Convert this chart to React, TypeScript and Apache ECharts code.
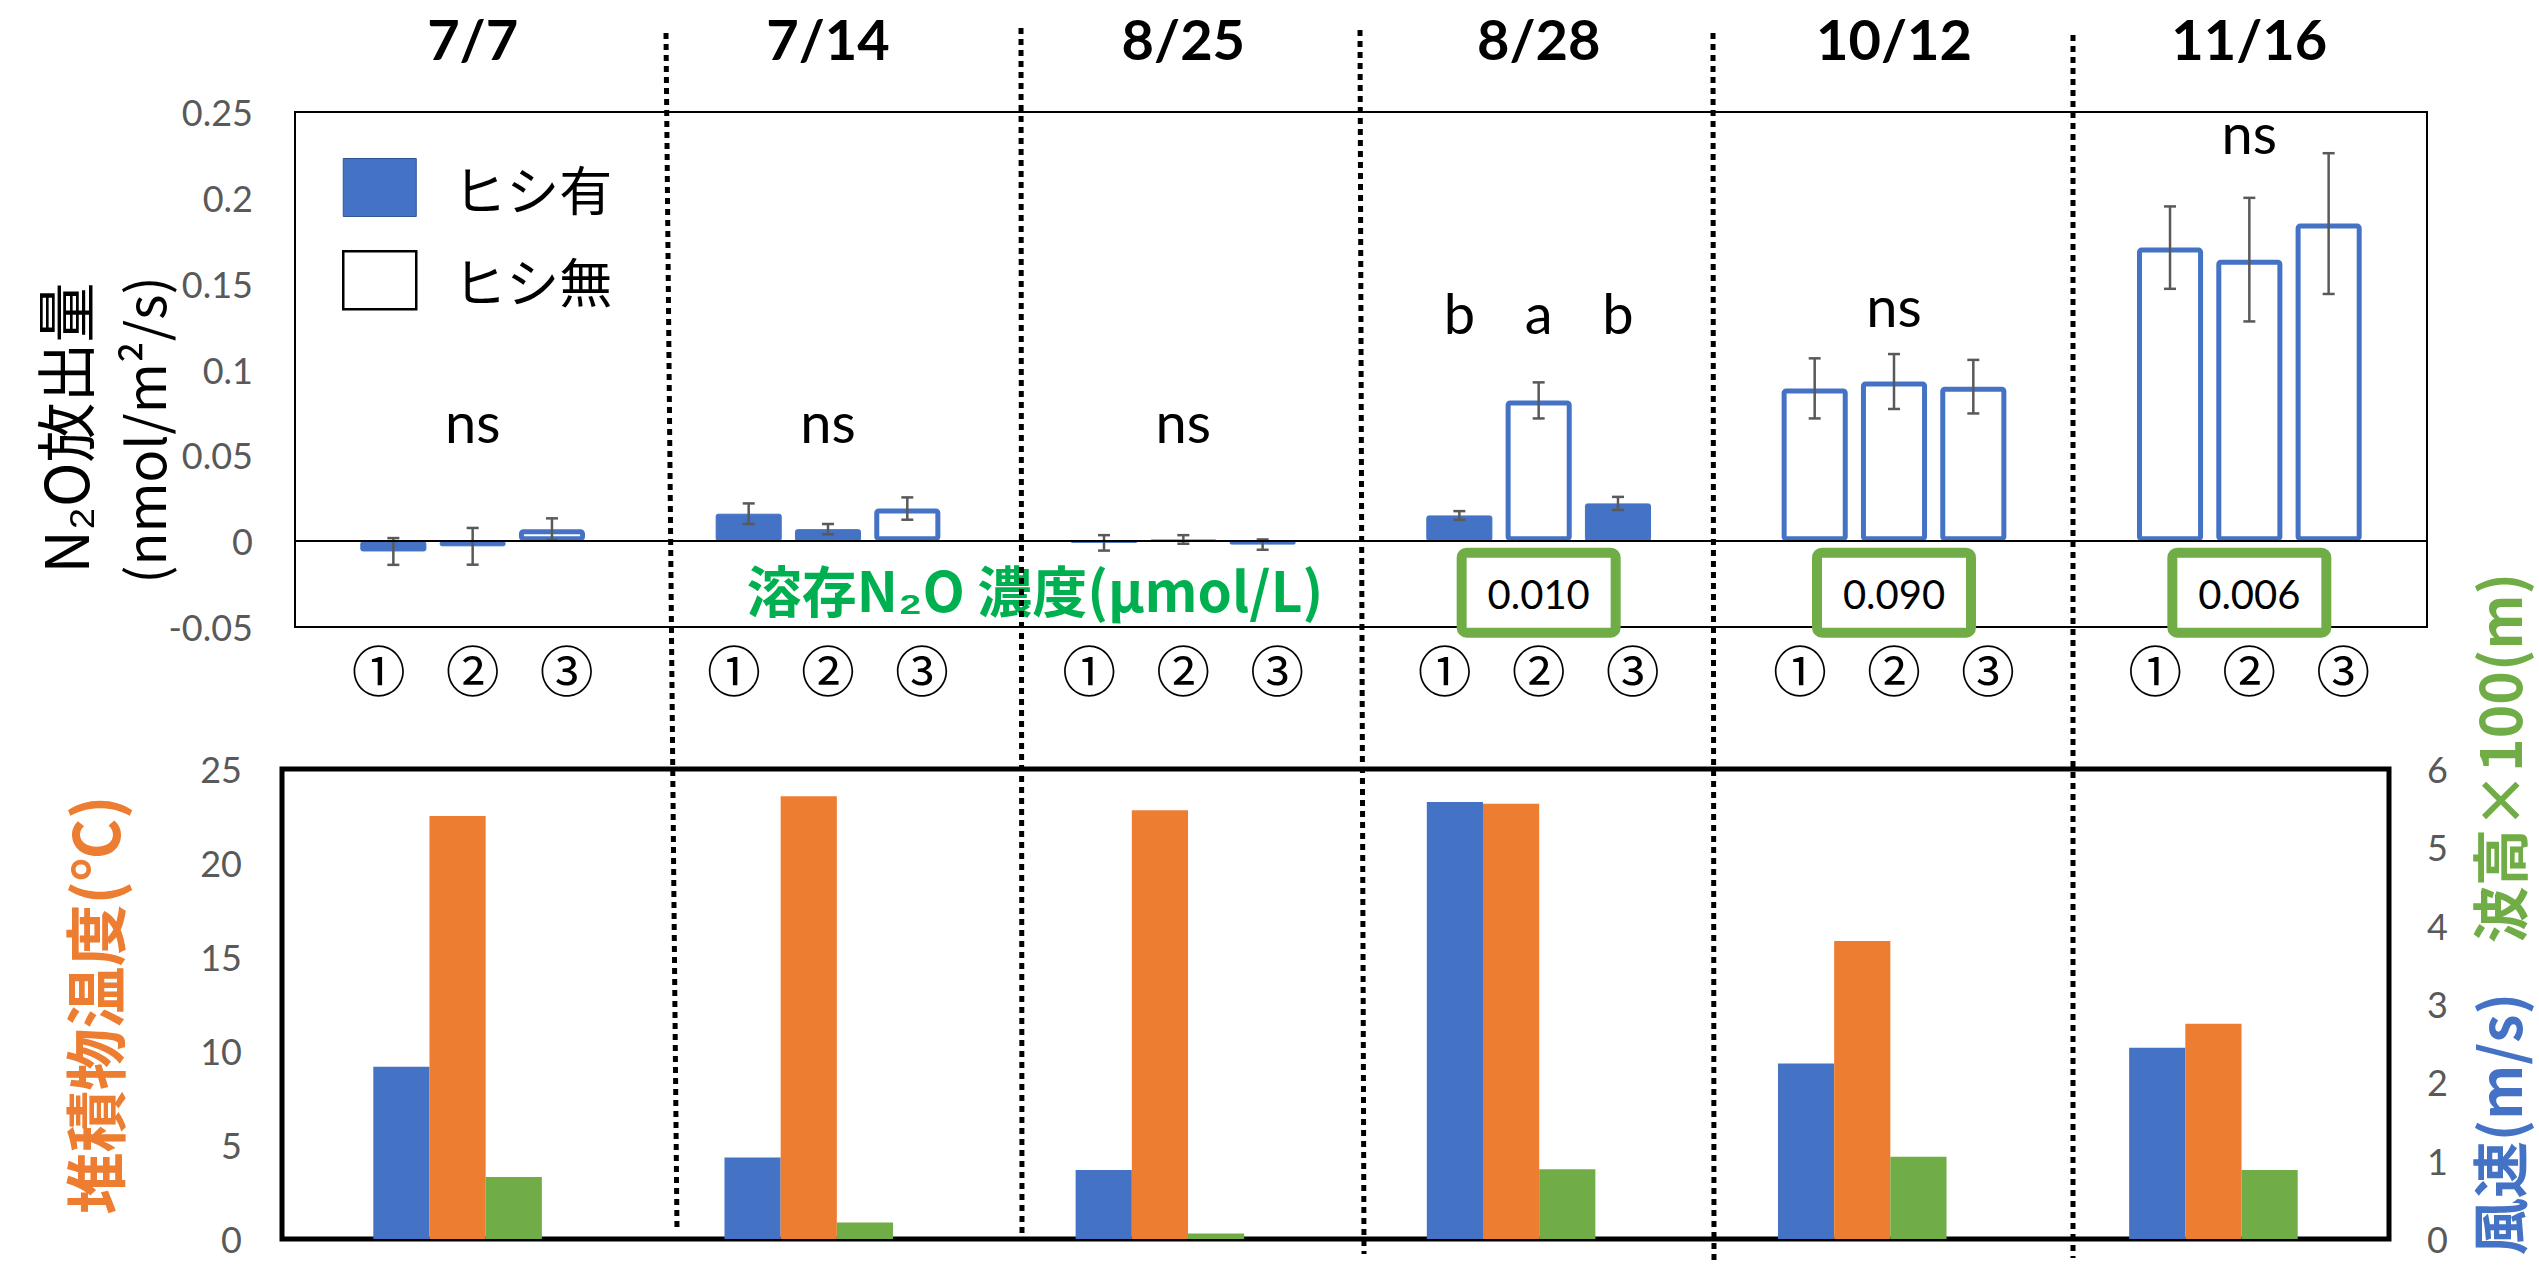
import React, { useEffect, useRef } from "react";
import * as echarts from "echarts";

// ---------- data ----------
const dates = ["7/7", "7/14", "8/25", "8/28", "10/12", "11/16"];
const posLabels = ["①", "②", "③"];

// N2O flux (nmol/m2/s) at positions ①, ②, ③
const flux1 = [-0.006, 0.016, -0.001, 0.015, 0.089, 0.171];
const flux2 = [-0.003, 0.007, 0.001, 0.082, 0.093, 0.164];
const flux3 = [0.007, 0.019, -0.002, 0.022, 0.09, 0.185];
const err1 = [0.0078, 0.006, 0.0045, 0.0025, 0.0175, 0.024];
const err2 = [0.0107, 0.003, 0.0025, 0.0105, 0.016, 0.036];
const err3 = [0.0063, 0.0065, 0.003, 0.0038, 0.0156, 0.041];
// water chestnut (ヒシ) present?
const hishi1 = [true, true, true, true, false, false];
const hishi2 = [true, true, true, false, false, false];
const hishi3 = [false, false, true, true, false, false];

// significance letters
const sigText = [["ns"], ["ns"], ["ns"], ["b", "a", "b"], ["ns"], ["ns"]];
const sigLevel = [0.07, 0.07, 0.07, 0.133, 0.137, 0.238];

// dissolved N2O (μmol/L)
const dissolved = [null, null, null, 0.01, 0.09, 0.006];
const DISSOLVED_Y = -0.03;

// lower panel
const windSpeed = [2.2, 1.04, 0.88, 5.58, 2.24, 2.44];
const sedTemp = [22.5, 23.55, 22.8, 23.15, 15.85, 11.45];
const waveHeight = [0.79, 0.21, 0.07, 0.89, 1.05, 0.88];

// ---------- style ----------
const BLUE = "#4472C4";
const ORANGE = "#ED7D31";
const GREEN = "#70AD47";
const TEXT_GREEN = "#00B050";
const GRAY = "#595959";
const BAR_W = 0.186;
const BAR_GAP = 0.2;
const LATIN = "Lato, 'Noto Sans CJK JP', sans-serif";
const CJK = "'Noto Sans CJK JP', sans-serif";

const fluxes = [flux1, flux2, flux3];
const errs = [err1, err2, err3];
const hishis = [hishi1, hishi2, hishi3];

function buildOption() {
  const series: any[] = [];
  for (let p = 0; p < 3; p++) {
    series.push({
      type: "bar",
      name: "ヒシ有",
      stack: "p" + p,
      xAxisIndex: 0,
      yAxisIndex: 0,
      barWidth: BAR_W * 100 + "%",
      barGap: BAR_GAP * 100 + "%",
      data: fluxes[p].map((v, i) => (hishis[p][i] ? v : "-")),
      itemStyle: { color: BLUE, borderColor: BLUE, borderWidth: 1, borderRadius: 2 },
      markLine:
        p === 0
          ? {
              silent: true,
              symbol: ["none", "none"],
              label: { show: false },
              lineStyle: { color: "#000", width: 2, type: "solid" },
              data: [{ yAxis: 0 }],
              z: 10,
            }
          : undefined,
    });
    series.push({
      type: "bar",
      name: "ヒシ無",
      stack: "p" + p,
      xAxisIndex: 0,
      yAxisIndex: 0,
      barWidth: BAR_W * 100 + "%",
      barGap: BAR_GAP * 100 + "%",
      data: fluxes[p].map((v, i) => (!hishis[p][i] ? v : "-")),
      itemStyle: { color: "#fff", borderColor: BLUE, borderWidth: 5, borderRadius: 2 },
    });
  }

  // error bars
  const errData: number[][] = [];
  for (let p = 0; p < 3; p++) {
    for (let i = 0; i < dates.length; i++) errData.push([i, fluxes[p][i], errs[p][i], p]);
  }
  series.push({
    type: "custom",
    xAxisIndex: 0,
    yAxisIndex: 0,
    z: 5,
    silent: true,
    data: errData,
    renderItem: (params: any, api: any) => {
      const cat = api.value(0);
      const v = api.value(1);
      const e = api.value(2);
      const pos = api.value(3);
      const band = api.size([1, 0])[0];
      const pitch = band * BAR_W * (1 + BAR_GAP);
      const x = api.coord([cat, v])[0] + (pos - 1) * pitch;
      const yT = api.coord([cat, v + e])[1];
      const yB = api.coord([cat, v - e])[1];
      const cap = 6;
      const st = { stroke: GRAY, lineWidth: 2.5 };
      return {
        type: "group",
        children: [
          { type: "line", shape: { x1: x, y1: yT, x2: x, y2: yB }, style: st },
          { type: "line", shape: { x1: x - cap, y1: yT, x2: x + cap, y2: yT }, style: st },
          { type: "line", shape: { x1: x - cap, y1: yB, x2: x + cap, y2: yB }, style: st },
        ],
      };
    },
  });

  // significance letters
  const sigItems: { cat: number; y: number; off: number; text: string }[] = [];
  sigText.forEach((arr, i) => {
    arr.forEach((t, k) => {
      const off = arr.length === 1 ? 0 : k - 1;
      sigItems.push({ cat: i, y: sigLevel[i], off, text: t });
    });
  });
  series.push({
    type: "custom",
    xAxisIndex: 0,
    yAxisIndex: 0,
    z: 6,
    silent: true,
    data: sigItems.map((s) => [s.cat, s.y, s.off]),
    renderItem: (params: any, api: any) => {
      const item = sigItems[params.dataIndex];
      const band = api.size([1, 0])[0];
      const pitch = band * BAR_W * (1 + BAR_GAP);
      const c = api.coord([api.value(0), api.value(1)]);
      return {
        type: "text",
        x: c[0] + api.value(2) * pitch,
        y: c[1],
        style: {
          text: item.text,
          fontSize: 56,
          fontFamily: LATIN,
          fill: "#000",
          align: "center",
          verticalAlign: "middle",
        },
      };
    },
  });

  // dissolved N2O boxes
  const dissItems = dissolved
    .map((d, i) => (d == null ? null : [i, DISSOLVED_Y, d]))
    .filter((d) => d !== null) as number[][];
  series.push({
    type: "custom",
    xAxisIndex: 0,
    yAxisIndex: 0,
    z: 4,
    silent: true,
    data: dissItems,
    renderItem: (params: any, api: any) => {
      const c = api.coord([api.value(0), api.value(1)]);
      const w = 154;
      const h = 80;
      return {
        type: "group",
        children: [
          {
            type: "rect",
            shape: { x: c[0] - w / 2, y: c[1] - h / 2, width: w, height: h, r: 5 },
            style: { fill: "#fff", stroke: GREEN, lineWidth: 10 },
          },
          {
            type: "text",
            x: c[0],
            y: c[1] + 1,
            style: {
              text: Number(api.value(2)).toFixed(3),
              fontSize: 40,
              fontFamily: LATIN,
              fill: "#000",
              align: "center",
              verticalAlign: "middle",
            },
          },
        ],
      };
    },
  });

  // lower panel bars
  series.push({
    type: "bar",
    name: "風速",
    xAxisIndex: 2,
    yAxisIndex: 2,
    barWidth: "16%",
    barGap: "0%",
    data: windSpeed,
    itemStyle: { color: BLUE },
  });
  series.push({
    type: "bar",
    name: "堆積物温度",
    xAxisIndex: 2,
    yAxisIndex: 1,
    barWidth: "16%",
    barGap: "0%",
    data: sedTemp,
    itemStyle: { color: ORANGE },
  });
  series.push({
    type: "bar",
    name: "波高×100",
    xAxisIndex: 2,
    yAxisIndex: 2,
    barWidth: "16%",
    barGap: "0%",
    data: waveHeight,
    itemStyle: { color: GREEN },
  });

  const sepLines = [
    [666, 33, 677, 1232],
    [1021, 28, 1022, 1238],
    [1360, 30, 1364, 1254],
    [1713, 33, 1714, 1265],
    [2073, 35, 2073, 1258],
  ];

  const tickLabel = { color: GRAY, fontSize: 36, fontFamily: LATIN };

  return {
    animation: false,
    backgroundColor: "#fff",
    legend: {
      show: true,
      orient: "vertical",
      left: 337,
      top: 153,
      itemWidth: 73,
      itemHeight: 58,
      itemGap: 33,
      icon: "rect",
      selectedMode: false,
      textStyle: { fontSize: 53, fontFamily: CJK, color: "#000", padding: [0, 0, 0, 32] },
      data: [
        { name: "ヒシ有", itemStyle: { color: BLUE, borderColor: "#2F5597", borderWidth: 1 } },
        { name: "ヒシ無", itemStyle: { color: "#fff", borderColor: "#000", borderWidth: 2.5 } },
      ],
    },
    grid: [
      { left: 295, top: 112, width: 2132, height: 515, show: true, borderColor: "#000", borderWidth: 2, backgroundColor: "transparent" },
      { left: 282, top: 769, width: 2107, height: 470, show: true, borderColor: "#000", borderWidth: 5, backgroundColor: "transparent" },
    ],
    xAxis: [
      {
        gridIndex: 0,
        type: "category",
        data: dates,
        position: "bottom",
        axisLine: { show: false, onZero: false },
        axisTick: { show: false },
        splitLine: { show: false },
        axisLabel: {
          margin: 18,
          formatter: () => posLabels.map((s) => "{c|" + s + "}").join(""),
          rich: { c: { width: 94, align: "center", fontSize: 54, lineHeight: 46, fontFamily: CJK, color: "#000" } },
        },
      },
      {
        gridIndex: 0,
        type: "category",
        data: dates,
        position: "top",
        axisLine: { show: false },
        axisTick: { show: false },
        splitLine: { show: false },
        axisLabel: { margin: 46, fontSize: 56, fontWeight: "bold", fontFamily: LATIN, color: "#000" },
      },
      {
        gridIndex: 1,
        type: "category",
        data: dates,
        axisLine: { show: false },
        axisTick: { show: false },
        splitLine: { show: false },
        axisLabel: { show: false },
      },
    ],
    yAxis: [
      {
        gridIndex: 0,
        type: "value",
        min: -0.05,
        max: 0.25,
        interval: 0.05,
        axisLine: { show: false },
        axisTick: { show: false },
        splitLine: { show: false },
        axisLabel: { ...tickLabel, margin: 42 },
      },
      {
        gridIndex: 1,
        type: "value",
        min: 0,
        max: 25,
        interval: 5,
        axisLine: { show: false },
        axisTick: { show: false },
        splitLine: { show: false },
        axisLabel: { ...tickLabel, margin: 40 },
      },
      {
        gridIndex: 1,
        type: "value",
        position: "right",
        min: 0,
        max: 6,
        interval: 1,
        axisLine: { show: false },
        axisTick: { show: false },
        splitLine: { show: false },
        axisLabel: { ...tickLabel, margin: 38 },
      },
    ],
    graphic: [
      ...sepLines.map((l) => ({
        type: "line",
        z: 100,
        silent: true,
        shape: { x1: l[0], y1: l[1], x2: l[2], y2: l[3] },
        style: { stroke: "#000", lineWidth: 5, lineDash: [6, 5] },
      })),
      {
        type: "text",
        x: 62,
        y: 428,
        rotation: Math.PI / 2,
        style: { text: "N₂O放出量", fontSize: 60, fontFamily: CJK, fill: "#000", align: "center", verticalAlign: "middle" },
      },
      {
        type: "text",
        x: 142,
        y: 430,
        rotation: Math.PI / 2,
        style: { text: "(nmol/m²/s)", fontSize: 54, fontFamily: CJK, fill: "#000", align: "center", verticalAlign: "middle" },
      },
      {
        type: "text",
        x: 1035,
        y: 588,
        style: {
          text: "溶存N₂O 濃度(μmol/L)",
          fontSize: 55,
          lineHeight: 55,
          fontWeight: "bold",
          fontFamily: CJK,
          fill: TEXT_GREEN,
          align: "center",
          verticalAlign: "middle",
        },
      },
      {
        type: "text",
        x: 93,
        y: 1005,
        rotation: Math.PI / 2,
        style: {
          text: "堆積物温度(℃)",
          fontSize: 62,
          fontWeight: "bold",
          fontFamily: CJK,
          fill: ORANGE,
          align: "center",
          verticalAlign: "middle",
        },
      },
      {
        type: "text",
        x: 2497,
        y: 573,
        rotation: Math.PI / 2,
        style: {
          text: "{w|風速(m/s)}{s| }{g|波高×100(m)}",
          align: "right",
          verticalAlign: "middle",
          fontSize: 57,
          fontWeight: "bold",
          fontFamily: CJK,
          rich: {
            w: { fill: BLUE, fontSize: 57, fontWeight: "bold", fontFamily: CJK },
            s: { width: 50, fontSize: 57 },
            g: { fill: GREEN, fontSize: 57, fontWeight: "bold", fontFamily: CJK },
          },
        },
      },
    ],
    series,
  };
}

export default function App() {
  const ref = useRef<HTMLDivElement>(null);
  useEffect(() => {
    if (!ref.current) return;
    const chart = echarts.init(ref.current, undefined, { renderer: "svg" });
    chart.setOption(buildOption() as any);
    return () => chart.dispose();
  }, []);
  return (
    <div
      ref={ref}
      style={{ position: "absolute", left: 0, top: 0, width: 2539, height: 1265, background: "#fff" }}
    />
  );
}
